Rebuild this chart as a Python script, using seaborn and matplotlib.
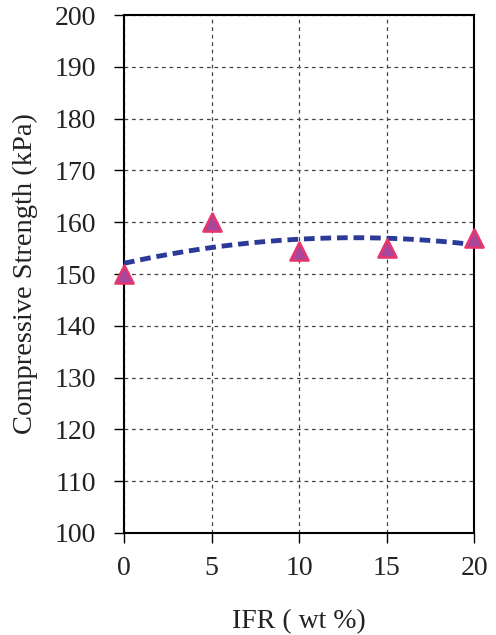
import numpy as np
import pandas as pd
import matplotlib
matplotlib.use("Agg")
import matplotlib.pyplot as plt
import seaborn as sns

ifr = [0, 5, 10, 15, 20]
strength = [150, 160, 154.5, 155, 157]
xticks = [0, 5, 10, 15, 20]
yticks = [100, 110, 120, 130, 140, 150, 160, 170, 180, 190, 200]

sns.set_theme(style="white")
plt.rcParams['font.family'] = ['Liberation Serif', 'DejaVu Serif']

df = pd.DataFrame({"IFR": ifr, "Strength": strength})

fig = plt.figure(figsize=(4.96, 6.35), dpi=100)
ax = fig.add_axes([0.25, 0.161, 0.706, 0.815])

# polynomial (order 2) trend line
coef = np.polyfit(df["IFR"], df["Strength"], 2)
xs = np.linspace(0, 20, 200)
trend = pd.DataFrame({"IFR": xs, "Strength": np.polyval(coef, xs)})
sns.lineplot(data=trend, x="IFR", y="Strength", ax=ax, color="#2B3A98",
             linewidth=3.5, linestyle=(0, (2.2, 1.2)), zorder=3)

sns.scatterplot(data=df, x="IFR", y="Strength", ax=ax, marker="^", s=170,
                color="#A8479C", edgecolor="#E8356A", linewidth=1.8, zorder=4,
                clip_on=False)

ax.set_xlim(0, 20)
ax.set_ylim(100, 200)
ax.set_xticks(xticks)
ax.set_yticks(yticks)
ax.grid(True, color="#444444", linestyle=(0, (3, 3)), linewidth=0.9)
for s in ax.spines.values():
    s.set_color("black")
    s.set_linewidth(1.5)
ax.tick_params(axis="both", direction="out", length=7, width=1, color="black",
               labelsize=20, labelcolor="#222222")
ax.tick_params(axis="y", pad=13)
ax.tick_params(axis="x", pad=10)
ax.tick_params(left=True, bottom=True)
ax.set_xlabel("IFR ( wt %)", fontsize=20, color="#222222", labelpad=20)
ax.set_ylabel("Compressive Strength (kPa)", fontsize=20.5, color="#222222", labelpad=12)

fig.savefig("out.png", dpi=100)
